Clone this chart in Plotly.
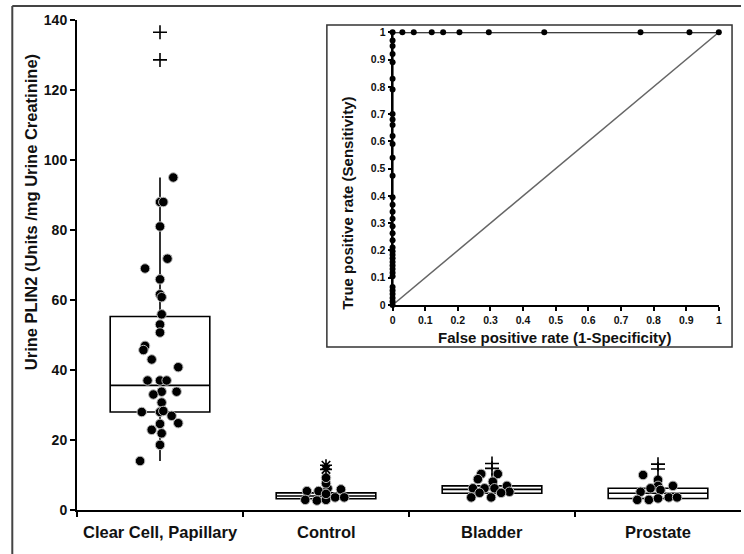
import plotly.graph_objects as go

# ---------------- data ----------------
categories = ["Clear Cell, Papillary", "Control", "Bladder", "Prostate"]

q1s = [28.0, 3.2, 4.8, 3.3]
medians = [35.6, 4.0, 5.9, 4.8]
q3s = [55.3, 4.9, 6.9, 6.2]
lower_whiskers = [14.0, 2.7, 3.5, 2.8]
upper_whiskers = [95.0, 9.0, 10.5, 10.0]

clear_cell_values = [95.0, 88.0, 88.0, 81.0, 71.8, 69.0, 65.9, 61.6, 60.8, 55.9, 53.0, 50.7,
                     46.9, 45.7, 43.0, 40.8, 37.0, 37.0, 37.0, 33.8, 33.8, 33.0, 30.7,
                     28.0, 28.0, 28.3, 26.9, 24.8, 24.6, 22.9, 21.9, 18.6, 14.0]
clear_cell_jitter = [0.08, 0.0, 0.02, 0.0, 0.045, -0.09, 0.0, 0.0, 0.01, 0.01, 0.0, 0.0,
                     -0.09, -0.10, -0.05, 0.11, -0.075, 0.0, 0.04, 0.01, 0.10, -0.04, 0.01,
                     -0.11, 0.0, 0.02, 0.07, 0.11, 0.0, -0.05, 0.01, 0.0, -0.12]
control_values = [5.4, 5.4, 6.2, 5.9, 2.9, 2.7, 2.9, 3.6, 3.6, 4.6, 7.6, 9.2]
control_jitter = [-0.115, -0.045, 0.01, 0.09, -0.125, -0.055, 0.0, 0.055, 0.11, 0.0, 0.0, 0.0]
bladder_values = [10.3, 8.8, 10.3, 8.1, 6.2, 6.2, 6.2, 6.9, 3.6, 3.6, 5.2, 4.9, 4.9]
bladder_jitter = [-0.065, -0.085, 0.035, 0.005, -0.115, -0.045, 0.015, 0.09, -0.125, -0.005, 0.105, 0.055, -0.075]
prostate_values = [10.0, 8.6, 6.9, 6.9, 6.2, 5.2, 5.7, 2.9, 2.9, 3.3, 3.6, 3.6]
prostate_jitter = [-0.09, 0.0, 0.0, 0.09, -0.045, -0.105, 0.015, -0.125, -0.055, 0.0, 0.065, 0.115]

outliers = [[136.5, 128.6], [12.8, 11.6], [13.3, 11.9], [13.1, 11.7]]

roc_fpr = [0.0] * 36 + [0.03, 0.065, 0.12, 0.155, 0.205, 0.295, 0.465, 0.76, 0.91, 1.0]
roc_tpr = [0.0, 0.013, 0.026, 0.04, 0.053, 0.066, 0.105, 0.118, 0.132, 0.145, 0.158, 0.171,
           0.184, 0.197, 0.211, 0.237, 0.263, 0.289, 0.316, 0.342, 0.368, 0.395,
           0.474, 0.54, 0.59, 0.62, 0.66, 0.68, 0.70, 0.79, 0.83, 0.89, 0.92, 0.95, 0.97,
           1.0, 1.0, 1.0, 1.0, 1.0, 1.0, 1.0, 1.0, 1.0, 1.0, 1.0]
roc_ticks = [0, 0.1, 0.2, 0.3, 0.4, 0.5, 0.6, 0.7, 0.8, 0.9, 1]
roc_ticktext = ["0", "0.1", "0.2", "0.3", "0.4", "0.5", "0.6", "0.7", "0.8", "0.9", "1"]
y_ticks = [0, 20, 40, 60, 80, 100, 120, 140]

FONT = "Liberation Sans, Arial, sans-serif"
TXT = "#111111"

fig = go.Figure()

# boxes
for i in range(len(categories)):
    fig.add_trace(go.Box(
        x=[i], q1=[q1s[i]], median=[medians[i]], q3=[q3s[i]],
        lowerfence=[lower_whiskers[i]], upperfence=[upper_whiskers[i]],
        width=0.6, whiskerwidth=0, fillcolor="white",
        line=dict(color="black", width=1.6), boxpoints=False,
        hoverinfo="skip", showlegend=False))

# points
groups = [(clear_cell_values, clear_cell_jitter), (control_values, control_jitter),
          (bladder_values, bladder_jitter), (prostate_values, prostate_jitter)]
for i, (vals, jit) in enumerate(groups):
    fig.add_trace(go.Scatter(
        x=[i + j for j in jit], y=vals, mode="markers",
        marker=dict(size=9.5, color="black", line=dict(color="#bbbbbb", width=1)),
        showlegend=False, hoverinfo="skip"))

# outliers
for i, outs in enumerate(outliers):
    sym = "asterisk-open" if categories[i] == "Control" else "cross-thin-open"
    fig.add_trace(go.Scatter(
        x=[i] * len(outs), y=outs, mode="markers",
        marker=dict(size=10, symbol=sym, color="black", line=dict(color="black", width=1.6)),
        showlegend=False, hoverinfo="skip"))

# ROC inset
fig.add_trace(go.Scatter(x=[0, 1], y=[0, 1], mode="lines", xaxis="x2", yaxis="y2",
                         line=dict(color="#666666", width=1.5), showlegend=False,
                         hoverinfo="skip"))
fig.add_trace(go.Scatter(x=roc_fpr, y=roc_tpr, mode="lines+markers", xaxis="x2", yaxis="y2",
                         line=dict(color="black", width=2),
                         marker=dict(size=6, color="black"), cliponaxis=False,
                         showlegend=False, hoverinfo="skip"))

W, H = 744, 554
L, R, T, B = 77, 0, 20, 44
pw, ph = W - L - R, H - T - B


def px_x(x):
    return (x - L) / pw


def px_y(y):
    return (H - B - y) / ph


shapes = [
    # inset frame
    dict(type="rect", xref="paper", yref="paper", x0=px_x(328), x1=px_x(735),
         y0=px_y(347), y1=px_y(25), line=dict(color="#333333", width=1.5),
         fillcolor="white", layer="below"),
    # outer frame (left and top)
    dict(type="line", xref="paper", yref="paper", x0=px_x(12), x1=px_x(12),
         y0=px_y(554), y1=px_y(6), line=dict(color="#444444", width=2)),
    dict(type="line", xref="paper", yref="paper", x0=px_x(12), x1=px_x(744),
         y0=px_y(6), y1=px_y(6), line=dict(color="#444444", width=2)),
]

annotations = [
    dict(text="<b>Urine PLIN2 (Units /mg Urine Creatinine)</b>", textangle=-90,
         xref="paper", yref="paper", x=px_x(31), y=px_y(212), showarrow=False,
         xanchor="center", yanchor="middle",
         font=dict(family=FONT, size=16.5, color=TXT)),
    dict(text="<b>True positive rate (Sensitivity)</b>", textangle=-90,
         xref="paper", yref="paper", x=px_x(348), y=px_y(203), showarrow=False,
         xanchor="center", yanchor="middle",
         font=dict(family=FONT, size=15, color=TXT)),
    dict(text="<b>False positive rate (1-Specificity)</b>",
         xref="paper", yref="paper", x=px_x(557), y=px_y(337), showarrow=False,
         xanchor="center", yanchor="middle",
         font=dict(family=FONT, size=15, color=TXT)),
]
for i, c in enumerate(categories):
    annotations.append(dict(text="<b>" + c + "</b>", xref="x", yref="paper", x=i,
                            y=px_y(532), showarrow=False, xanchor="center", yanchor="middle",
                            font=dict(family=FONT, size=16.5, color=TXT)))

fig.update_layout(
    width=W, height=H, margin=dict(l=L, r=R, t=T, b=B),
    paper_bgcolor="white", plot_bgcolor="white",
    font=dict(family=FONT, color=TXT),
    xaxis=dict(range=[-0.5, 3.5], showgrid=False, zeroline=False, showline=True,
               linecolor="black", linewidth=2, tickvals=[-0.5, 0.5, 1.5, 2.5],
               ticks="outside", ticklen=5, tickwidth=2, tickcolor="black",
               showticklabels=False),
    yaxis=dict(range=[0, 140], showgrid=False, zeroline=False, showline=True,
               linecolor="black", linewidth=2, tickvals=y_ticks, ticks="outside",
               ticklen=5, tickwidth=2, tickcolor="black",
               tickfont=dict(family=FONT, size=14, color=TXT, weight="bold")),
    xaxis2=dict(domain=[px_x(394), px_x(721.7)], anchor="y2", range=[0, 1],
                showgrid=False, zeroline=False, showline=True, linecolor="black",
                linewidth=2, tickvals=roc_ticks, ticktext=roc_ticktext,
                ticks="outside", ticklen=4, tickwidth=1.5, tickcolor="black",
                tickfont=dict(family=FONT, size=10.5, color=TXT, weight="bold")),
    yaxis2=dict(domain=[px_y(305), px_y(32.3)], anchor="x2", range=[0, 1],
                showgrid=False, zeroline=False, showline=True, linecolor="black",
                linewidth=2, tickvals=roc_ticks, ticktext=roc_ticktext,
                ticks="outside", ticklen=3, tickwidth=1.5, tickcolor="black",
                tickfont=dict(family=FONT, size=10.5, color=TXT, weight="bold")),
    shapes=shapes, annotations=annotations,
)

fig.write_html("out.html", config={"displayModeBar": False},
               post_script="document.body.style.margin='0';")
